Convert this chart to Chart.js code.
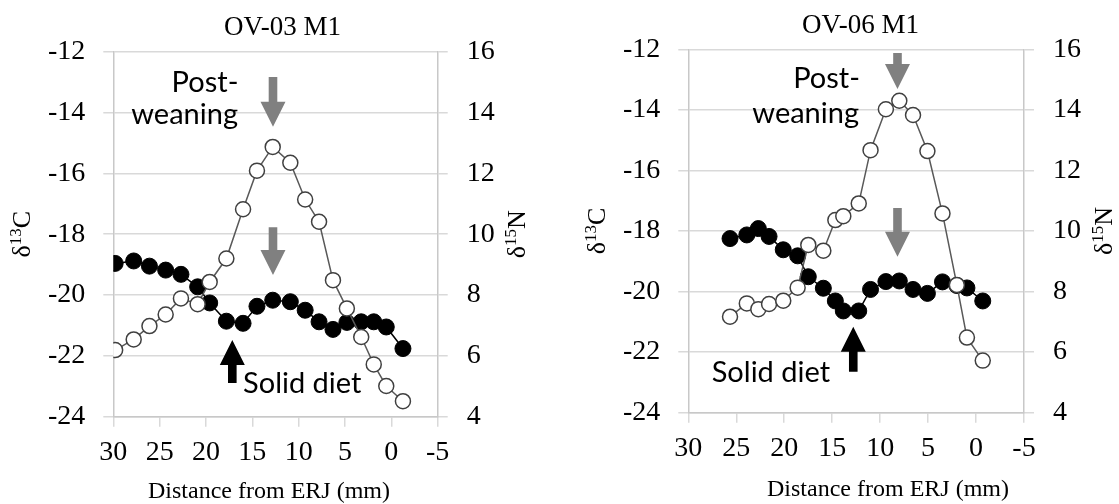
<!DOCTYPE html>
<html>
<head>
<meta charset="utf-8">
<script src="https://cdn.jsdelivr.net/npm/chart.js@4.4.1/dist/chart.umd.min.js"></script>
<style>
  html, body { margin: 0; padding: 0; background: #fff; }
  #wrap { position: relative; width: 1119px; height: 504px; overflow: hidden; }
  canvas { position: absolute; top: 0; }
</style>
</head>
<body>
<div id="wrap">
  <canvas id="c1" width="560" height="504" style="left:0"></canvas>
  <canvas id="c2" width="559" height="504" style="left:560px"></canvas>
</div>
<script>
// Shared axis ticks
const distanceTicks = [30, 25, 20, 15, 10, 5, 0, -5];
const carbonTicks = [-24, -22, -20, -18, -16, -14, -12];
const nitrogenTicks = [4, 6, 8, 10, 12, 14, 16];

// OV-03 M1: distance from ERJ (mm), δ13C and δ15N (‰)
const ov03Distance = [29.8, 27.8, 26.1, 24.35, 22.7, 20.9, 19.6, 17.8, 16.0, 14.5, 12.8, 10.9, 9.3, 7.8, 6.3, 4.8, 3.25, 1.9, 0.55, -1.25];
const ov03Carbon = [-18.96, -18.88, -19.05, -19.18, -19.32, -19.73, -20.26, -20.86, -20.93, -20.37, -20.17, -20.22, -20.5, -20.88, -21.13, -20.9, -20.88, -20.88, -21.05, -21.76];
const ov03Nitrogen = [6.19, 6.54, 6.98, 7.36, 7.89, 7.70, 8.43, 9.2, 10.82, 12.09, 12.87, 12.35, 11.14, 10.41, 8.49, 7.56, 6.62, 5.72, 5.01, 4.51];

// OV-06 M1: distance from ERJ (mm), δ13C and δ15N (‰)
const ov06Distance = [25.65, 23.9, 22.7, 21.58, 20.1, 18.6, 17.49, 15.92, 14.67, 13.84, 12.23, 11.0, 9.4, 8.0, 6.57, 5.07, 3.5, 2.0, 0.95, -0.7];
const ov06Carbon = [-18.25, -18.13, -17.92, -18.18, -18.62, -18.82, -19.51, -19.89, -20.31, -20.64, -20.64, -19.93, -19.67, -19.65, -19.93, -20.06, -19.68, -19.8, -19.88, -20.31];
const ov06Nitrogen = [7.17, 7.61, 7.42, 7.59, 7.70, 8.13, 9.54, 9.35, 10.36, 10.49, 10.91, 12.67, 14.02, 14.30, 13.83, 12.64, 10.58, 8.22, 6.48, 5.72];

const SERIF = '"Liberation Serif", "Times New Roman", serif';
const SANS = 'Lato, "Open Sans", sans-serif';

// Layout and annotations for each panel (annotation anchors are in data units: mm, δ13C)
const panels = [
  {
    canvas: 'c1', width: 560, title: 'OV-03 M1',
    distance: ov03Distance, carbon: ov03Carbon, nitrogen: ov03Nitrogen,
    area: { left: 113.3, right: 437.7, top: 51.7, bottom: 416.7 },
    titlePos: [282.5, 35], xTitlePos: [269, 498],
    grayArrows: [ { x: 12.77, from: -12.83, to: -14.47 }, { x: 12.77, from: -17.77, to: -19.34 } ],
    blackArrow: { x: 17.16, from: -22.89, to: -21.48 },
    post: { x: 16.5, y: -13.33 }, weaning: { x: 16.55, y: -14.38 },
    solid: { x: 16.0, y: -23.22 }
  },
  {
    canvas: 'c2', width: 559, title: 'OV-06 M1',
    distance: ov06Distance, carbon: ov06Carbon, nitrogen: ov06Nitrogen,
    area: { left: 128.3, right: 464, top: 49.3, bottom: 412.7 },
    titlePos: [300.5, 33], xTitlePos: [328, 496],
    grayArrows: [ { x: 8.19, from: -12.12, to: -13.31 }, { x: 8.19, from: -17.24, to: -18.85 } ],
    blackArrow: { x: 12.8, from: -22.65, to: -21.16 },
    post: { x: 12.1, y: -13.28 }, weaning: { x: 12.2, y: -14.43 },
    solid: { x: 27.56, y: -22.99 }
  }
];

function drawArrow(ctx, x, yTail, yTip, color) {
  const dir = yTip > yTail ? 1 : -1;
  const head = 25, halfHead = 12.5, halfShaft = 4.3;
  const yBase = yTip - dir * head;
  ctx.save();
  ctx.fillStyle = color;
  ctx.beginPath();
  ctx.moveTo(x - halfShaft, yTail);
  ctx.lineTo(x + halfShaft, yTail);
  ctx.lineTo(x + halfShaft, yBase);
  ctx.lineTo(x + halfHead, yBase);
  ctx.lineTo(x, yTip);
  ctx.lineTo(x - halfHead, yBase);
  ctx.lineTo(x - halfShaft, yBase);
  ctx.closePath();
  ctx.fill();
  ctx.restore();
}

// Rotated isotope label such as δ13C, centred on (cx, cy)
function drawIsoLabel(ctx, cx, cy, num, el) {
  const big = '26px ' + SERIF, small = '17px ' + SERIF;
  ctx.save();
  ctx.translate(cx, cy);
  ctx.rotate(-Math.PI / 2);
  ctx.fillStyle = '#000';
  ctx.textBaseline = 'alphabetic';
  ctx.textAlign = 'left';
  ctx.font = big;
  const wd = ctx.measureText('δ').width;
  const we = ctx.measureText(el).width;
  ctx.font = small;
  const wn = ctx.measureText(num).width;
  let x = -(wd + wn + we) / 2;
  const base = 8;
  ctx.font = big; ctx.fillText('δ', x, base); x += wd;
  ctx.font = small; ctx.fillText(num, x, base - 9); x += wn;
  ctx.font = big; ctx.fillText(el, x, base);
  ctx.restore();
}

function notesPlugin(p) {
  return {
    id: 'isoNotes',
    afterDraw(chart) {
      const ctx = chart.ctx;
      const xs = chart.scales.x, ys = chart.scales.yC;
      const a = chart.chartArea;
      const px = v => xs.getPixelForValue(v);
      const py = v => ys.getPixelForValue(v);

      ctx.save();
      ctx.fillStyle = '#000';
      ctx.textBaseline = 'alphabetic';
      ctx.font = '27px ' + SERIF;
      ctx.textAlign = 'center';
      ctx.fillText(p.title, p.titlePos[0], p.titlePos[1]);
      ctx.font = '24px ' + SERIF;
      ctx.fillText('Distance from ERJ (mm)', p.xTitlePos[0], p.xTitlePos[1]);
      ctx.restore();

      const midY = (a.top + a.bottom) / 2;
      drawIsoLabel(ctx, a.left - 91, midY, '13', 'C');
      drawIsoLabel(ctx, a.right + 79.5, midY, '15', 'N');

      p.grayArrows.forEach(g => drawArrow(ctx, px(g.x), py(g.from), py(g.to), '#808080'));
      drawArrow(ctx, px(p.blackArrow.x), py(p.blackArrow.from), py(p.blackArrow.to), '#000');

      ctx.save();
      ctx.fillStyle = '#000';
      ctx.font = '29px ' + SANS;
      ctx.textBaseline = 'alphabetic';
      ctx.textAlign = 'right';
      ctx.fillText('Post-', px(p.post.x), py(p.post.y));
      ctx.fillText('weaning', px(p.weaning.x), py(p.weaning.y));
      ctx.textAlign = 'left';
      ctx.fillText('Solid diet', px(p.solid.x), py(p.solid.y));
      ctx.restore();
    }
  };
}

function points(xs, ys) {
  return xs.map((x, i) => ({ x: x, y: ys[i] }));
}

function makePanel(p) {
  const tickFont = { family: SERIF, size: 28 };
  const H = 504;
  return new Chart(document.getElementById(p.canvas), {
    type: 'scatter',
    data: {
      datasets: [
        {
          label: 'δ15N',
          data: points(p.distance, p.nitrogen),
          yAxisID: 'yN',
          order: 0,
          showLine: true,
          borderColor: '#595959',
          borderWidth: 1.5,
          pointRadius: 7.5,
          pointBackgroundColor: '#ffffff',
          pointBorderColor: '#404040',
          pointBorderWidth: 1.5
        },
        {
          label: 'δ13C',
          data: points(p.distance, p.carbon),
          yAxisID: 'yC',
          order: 1,
          showLine: true,
          borderColor: '#000000',
          borderWidth: 1.5,
          pointRadius: 8,
          pointBackgroundColor: '#000000',
          pointBorderColor: '#000000',
          pointBorderWidth: 1
        }
      ]
    },
    options: {
      responsive: false,
      animation: false,
      events: [],
      layout: { padding: { top: p.area.top, left: 0, right: 0, bottom: 0 } },
      plugins: { legend: { display: false }, tooltip: { enabled: false } },
      scales: {
        x: {
          type: 'linear', reverse: true,
          min: Math.min(...distanceTicks), max: Math.max(...distanceTicks),
          afterBuildTicks: s => { s.ticks = distanceTicks.map(v => ({ value: v })); },
          afterFit: s => { s.height = H - p.area.bottom; },
          grid: { drawOnChartArea: false, drawTicks: true, tickLength: 10, color: '#d9d9d9', lineWidth: 1.5 },
          border: { color: '#c8c8c8', width: 1.5 },
          ticks: { font: tickFont, color: '#000', padding: 9, maxRotation: 0, autoSkip: false }
        },
        yC: {
          type: 'linear', position: 'left',
          min: Math.min(...carbonTicks), max: Math.max(...carbonTicks),
          afterBuildTicks: s => { s.ticks = carbonTicks.map(v => ({ value: v })); },
          afterFit: s => { s.width = p.area.left; },
          grid: { drawTicks: true, tickLength: 10, color: '#d9d9d9', lineWidth: 1.5 },
          border: { color: '#c8c8c8', width: 1.5 },
          ticks: { font: tickFont, color: '#000', padding: 18 }
        },
        yN: {
          type: 'linear', position: 'right',
          min: Math.min(...nitrogenTicks), max: Math.max(...nitrogenTicks),
          afterBuildTicks: s => { s.ticks = nitrogenTicks.map(v => ({ value: v })); },
          afterFit: s => { s.width = p.width - p.area.right; },
          grid: { drawOnChartArea: false, drawTicks: true, tickLength: 10, color: '#d9d9d9', lineWidth: 1.5 },
          border: { color: '#c8c8c8', width: 1.5 },
          ticks: { font: tickFont, color: '#000', padding: 19 }
        }
      }
    },
    plugins: [notesPlugin(p)]
  });
}

panels.forEach(makePanel);
</script>
</body>
</html>
